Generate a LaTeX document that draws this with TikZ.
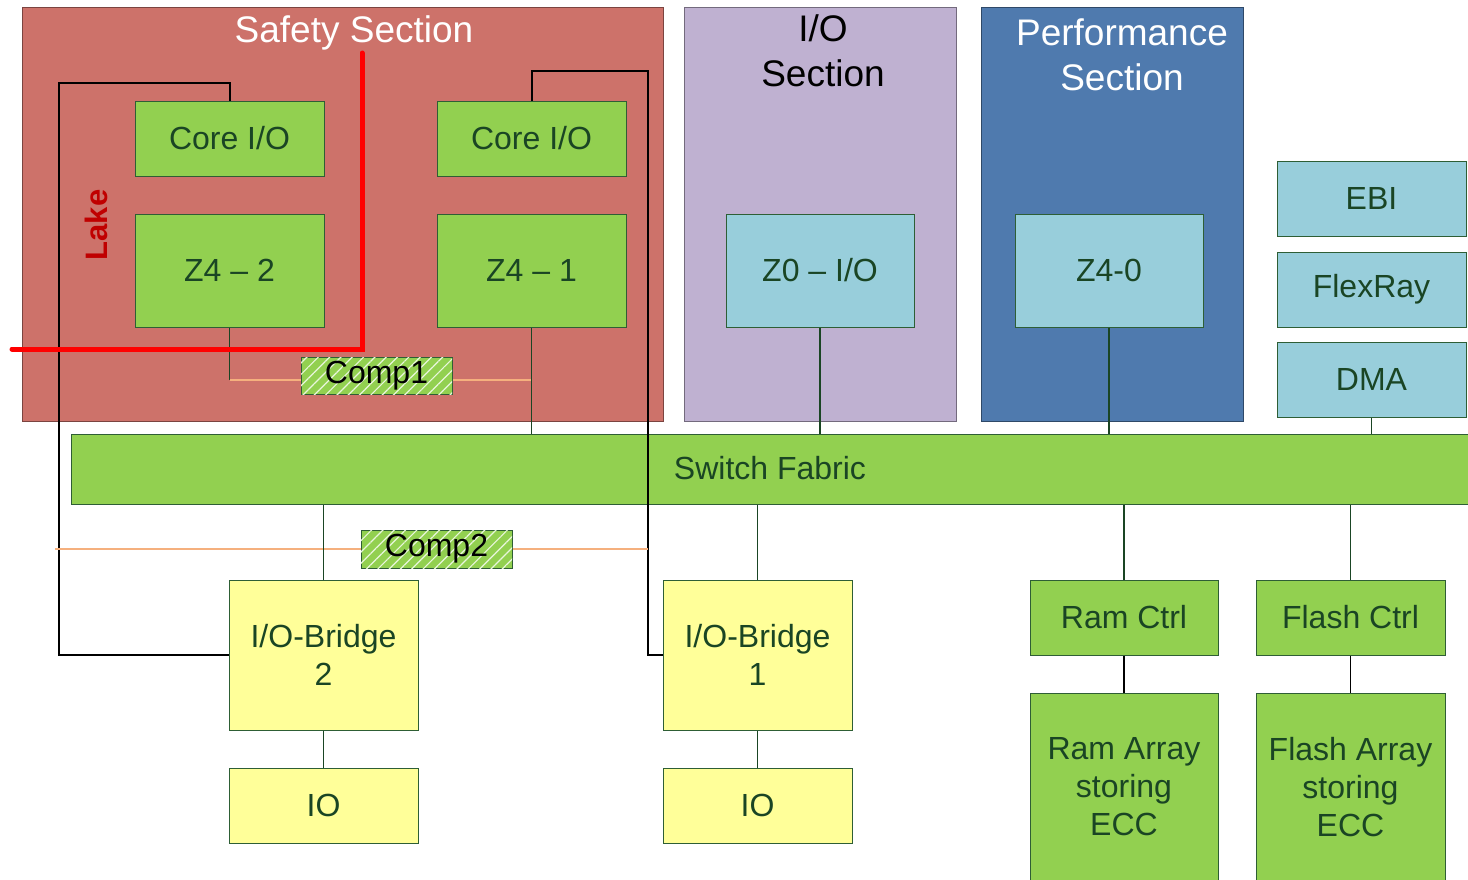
\documentclass[tikz,border=0pt]{standalone}
\usepackage{fontspec}
\setmainfont{Liberation Sans}
\usetikzlibrary{patterns.meta}

\definecolor{safetyred}{HTML}{CD726A}
\definecolor{iolilac}{HTML}{BFB1D1}
\definecolor{perfblue}{HTML}{4F7AAE}
\definecolor{boxgreen}{HTML}{92D050}
\definecolor{boxblue}{HTML}{98CEDB}
\definecolor{boxyellow}{HTML}{FFFF99}
\definecolor{txtgreen}{HTML}{1A4524}
\definecolor{edgegreen}{HTML}{2E5E35}
\definecolor{linkorange}{HTML}{F5B07E}
\definecolor{lakered}{HTML}{C00000}

\tikzset{
  every node/.style={inner sep=0pt, align=center},
  sect/.style={draw=#1!60!black, line width=1pt, fill=#1},
  blk/.style={draw=edgegreen, line width=1pt, text=txtgreen,
    font=\fontsize{32}{38}\selectfont},
  gbox/.style={blk, fill=boxgreen},
  bbox/.style={blk, fill=boxblue},
  ybox/.style={blk, fill=boxyellow},
  comp/.style={draw=edgegreen, line width=1pt, fill=boxgreen, text=black,
    font=\fontsize{32}{38}\selectfont,
    postaction={pattern={Lines[angle=45,distance=8pt,line width=1.2pt]},
      pattern color=white!80!boxgreen}},
  title/.style={font=\fontsize{37}{45}\selectfont},
  sz/.style 2 args={minimum width=#1pt, minimum height=#2pt},
  conn/.style={draw=txtgreen, line width=1.6pt},
  wire/.style={draw=black, line width=2pt},
  orange/.style={draw=linkorange, line width=1.6pt},
  boundary/.style={draw=red, line width=5pt, line cap=round},
}

\begin{document}
\begin{tikzpicture}[x=1pt, y=-1pt]
  \useasboundingbox (0,0) rectangle (1468,879);

  % sections
  \node[sect=safetyred, sz={641}{414}] (safety) at (342.5,214) {};
  \node[sect=iolilac, sz={272}{414}] (iosec) at (820,214) {};
  \node[sect=perfblue, sz={262}{414}] (perf) at (1112,214) {};
  \node[title, text=white] (safetyT) at (354,33) {Safety Section};
  \node[title, text=black] (ioT) at (823,51) {I/O\\Section};
  \node[title, text=white] (perfT) at (1122,55) {Performance\\Section};

  % safety section cores
  \node[gbox, sz={189}{75}] (coreL) at (229.5,138.5) {Core I/O};
  \node[gbox, sz={189}{75}] (coreR) at (531.5,138.5) {Core I/O};
  \node[gbox, sz={189}{113}] (z42) at (229.5,270.5) {Z4 -- 2};
  \node[gbox, sz={189}{113}] (z41) at (531.5,270.5) {Z4 -- 1};

  % other cores
  \node[bbox, sz={188}{113}] (z0) at (820,270.5) {Z0 -- I/O};
  \node[bbox, sz={188}{113}] (z40) at (1109,270.5) {Z4-0};

  % masters on the right
  \node[bbox, sz={189}{75}] (ebi) at (1371.5,198.5) {EBI};
  \node[bbox, sz={189}{75}] (flex) at (1371.5,289.5) {FlexRay};
  \node[bbox, sz={189}{75}] (dma) at (1371.5,379.5) {DMA};

  % interconnect
  \node[gbox, sz={1401}{70}] (switch) at (771.5,469) {};
  \node[text=txtgreen, font=\fontsize{32}{38}\selectfont] (switchT) at (770,468) {Switch Fabric};

  % comparators
  \node[comp, sz={151}{37}] (comp1) at (376.5,376) {Comp1};
  \node[comp, sz={151}{38}] (comp2) at (436.5,549) {Comp2};

  % bridges and io
  \node[ybox, sz={189}{150}] (br2) at (323.5,655) {I/O-Bridge\\2};
  \node[ybox, sz={189}{150}] (br1) at (757.5,655) {I/O-Bridge\\1};
  \node[ybox, sz={189}{75}] (io2) at (323.5,805.5) {IO};
  \node[ybox, sz={189}{75}] (io1) at (757.5,805.5) {IO};

  % memories
  \node[gbox, sz={188}{75}] (ramc) at (1124,617.5) {Ram Ctrl};
  \node[gbox, sz={189}{75}] (flashc) at (1350.5,617.5) {Flash Ctrl};
  \node[gbox, sz={188}{188}] (rama) at (1124,787) {Ram Array\\storing\\ECC};
  \node[gbox, sz={189}{188}] (flasha) at (1350.5,787) {Flash Array\\storing\\ECC};

  % redundant core wiring to the bridges
  \coordinate (wL) at (59,83);
  \coordinate (wR) at (648,71);
  \draw[wire] (coreL.north) |- (wL) |- (br2.west);
  \draw[wire] (coreR.north) |- (wR) |- (br1.west);

  % comparator 1 taps
  \coordinate (t1) at (229.5,380);
  \coordinate (t2) at (531.5,380);
  \draw[conn] (z42.south) -- (t1);
  \draw[orange] (t1) -- (comp1.west |- t1);
  \draw[orange] (comp1.east |- t2) -- (t2);

  % comparator 2 taps
  \coordinate (t3) at (55,549);
  \coordinate (t4) at (648,549);
  \draw[orange] (t3) -- (comp2.west);
  \draw[orange] (comp2.east) -- (t4);

  % links to the switch fabric
  \draw[conn] (z41.south) -- (z41.south |- switch.north);
  \draw[conn] (z0.south) -- (z0.south |- switch.north);
  \draw[conn] (z40.south) -- (z40.south |- switch.north);
  \draw[conn] (dma.south) -- (dma.south |- switch.north);
  \draw[conn] (switch.south -| br2.north) -- (br2.north);
  \draw[conn] (switch.south -| br1.north) -- (br1.north);
  \draw[conn] (switch.south -| ramc.north) -- (ramc.north);
  \draw[conn] (switch.south -| flashc.north) -- (flashc.north);
  \draw[conn] (br2.south) -- (io2.north);
  \draw[conn] (br1.south) -- (io1.north);
  \draw[wire, line width=1.6pt] (ramc.south) -- (rama.north);
  \draw[wire, line width=1.6pt] (flashc.south) -- (flasha.north);

  % lake boundary
  \coordinate (r1) at (362,53);
  \coordinate (r2) at (12,349);
  \draw[boundary] (r1) |- (r2);
  \node[rotate=90, text=lakered, font=\bfseries\fontsize{31}{38}\selectfont] (lake) at (96,225) {Lake};
\end{tikzpicture}
\end{document}
